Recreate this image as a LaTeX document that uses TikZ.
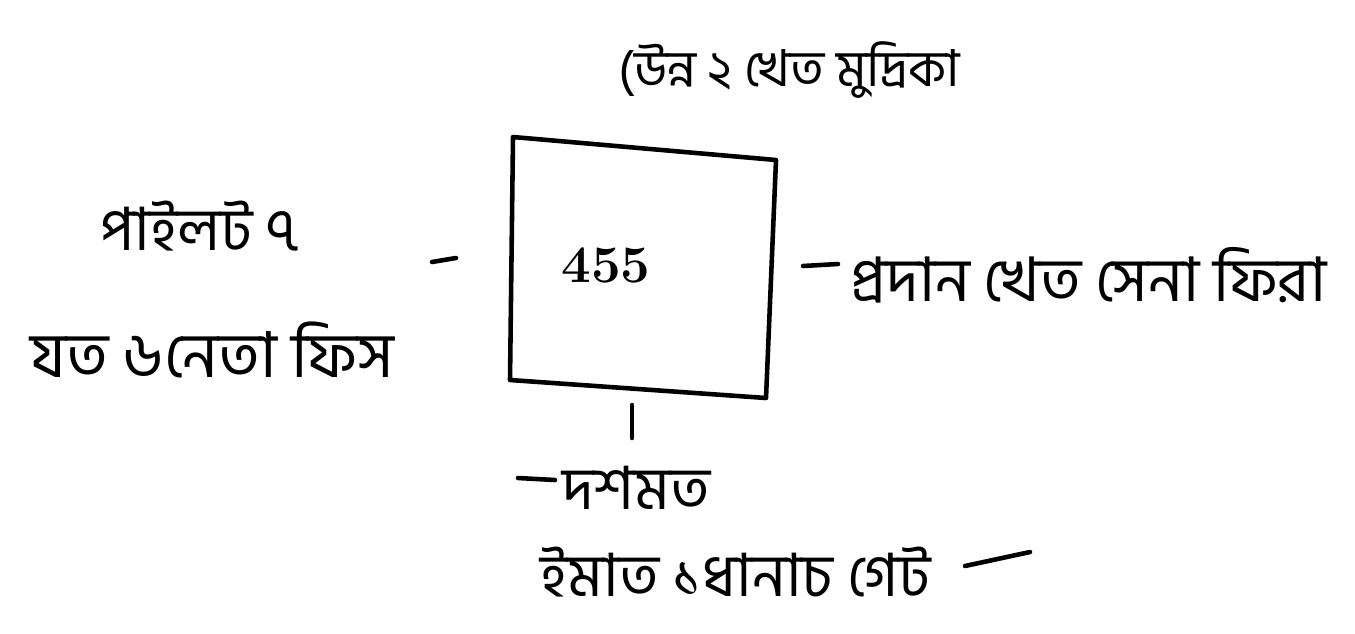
\documentclass[tikz,border=0pt]{standalone}
\usepackage{fontspec}
\newfontfamily\bnfont[Script=Bengali]{Hind Siliguri}
\begin{document}
\begin{tikzpicture}[x=0.02cm,y=-0.02cm,
  ink/.style={line width=2.6pt,line cap=round,line join=round,black},
  lbl/.style={font=\bnfont\fontsize{34}{40}\selectfont,inner sep=0pt,anchor=west}]
\useasboundingbox (0,0) rectangle (1355,633);
% box
\coordinate (b1) at (513,137);
\coordinate (b2) at (776,160);
\coordinate (b3) at (766,398);
\coordinate (b4) at (510,380);
\draw[ink] (b1) -- (b2) -- (b3) -- (b4) -- cycle;
\node[font=\bfseries\fontsize{30}{34}\selectfont,inner sep=0pt] (num) at (606,265) {455};
% top label
\node[lbl,font=\bnfont\fontsize{29}{34}\selectfont] (top) at (618,70) {(উন্ন ২ খেত মুদ্রিকা};
% left labels
\node[lbl] (lefta) at (100,226) {পাইলট ৭};
\node[lbl,font=\bnfont\fontsize{36}{42}\selectfont] (leftb) at (30,350) {যত ৬নেতা ফিস};
\coordinate (ld1) at (432,262);
\coordinate (ld2) at (456,258);
\draw[ink] (ld1) -- (ld2);
% right label
\coordinate (rd1) at (803,266);
\coordinate (rd2) at (838,264);
\draw[ink] (rd1) -- (rd2);
\node[lbl,font=\bnfont\fontsize{35}{41}\selectfont] (right) at (850,275) {প্রদান খেত সেনা ফিরা};
% bottom
\coordinate (bt1) at (632,405);
\coordinate (bt2) at (632,438);
\draw[ink] (bt1) -- (bt2);
\coordinate (bd1) at (518,478);
\coordinate (bd2) at (555,480);
\draw[ink] (bd1) -- (bd2);
\node[lbl] (bottoma) at (562,488) {দশমত};
\node[lbl] (bottomb) at (540,572) {ইমাত ১ধানাচ গেট};
\coordinate (bu1) at (965,566);
\coordinate (bu2) at (1030,552);
\draw[ink] (bu1) -- (bu2);
\end{tikzpicture}
\end{document}
